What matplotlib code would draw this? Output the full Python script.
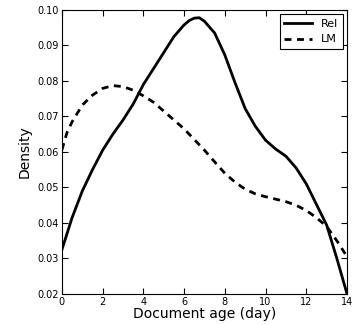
import matplotlib
matplotlib.use('Agg')
import matplotlib.pyplot as plt

age = [0, 0.25, 0.5, 1, 1.5, 2, 2.5, 3, 3.5, 4, 4.5, 5, 5.5, 6, 6.25, 6.5, 6.75, 7,
       7.5, 8, 8.5, 9, 9.5, 10, 10.5, 11, 11.5, 12, 12.5, 13, 13.5, 14]
rel = [0.0325, 0.037, 0.0415, 0.049, 0.055, 0.0605, 0.065, 0.069, 0.0735, 0.079,
       0.0835, 0.088, 0.0925, 0.0958, 0.097, 0.0977, 0.0978, 0.0968,
       0.0935, 0.0873, 0.0795, 0.0722, 0.0672, 0.0633, 0.0608, 0.0588,
       0.0555, 0.051, 0.0452, 0.0394, 0.030, 0.020]
lm = [0.0606, 0.0655, 0.0685, 0.0732, 0.0760, 0.0779, 0.0787, 0.0784, 0.0774,
      0.0758, 0.0740, 0.0715, 0.069, 0.0665, 0.065, 0.0635, 0.062, 0.0605,
      0.0572, 0.054, 0.0515, 0.0495, 0.0482, 0.0474, 0.0467, 0.046, 0.0450,
      0.0435, 0.0415, 0.039, 0.035, 0.0305]

fig = plt.figure(figsize=(3.6, 3.25), dpi=100)
ax = fig.add_axes([0.172, 0.0954, 0.792, 0.874])

ax.plot(age, rel, 'k-', lw=2, solid_joinstyle='round', label='Rel')
ax.plot(age, lm, 'k--', lw=2, dashes=(2.5, 2), label='LM')

ax.set_xlim(0, 14)
ax.set_ylim(0.02, 0.10)
ax.set_xticks(range(0, 15, 2))
ax.set_yticks([0.02, 0.03, 0.04, 0.05, 0.06, 0.07, 0.08, 0.09, 0.10])
ax.set_yticklabels(['0.02', '0.03', '0.04', '0.05', '0.06', '0.07', '0.08', '0.09', '0.10'])
ax.tick_params(direction='in', top=True, right=True, length=4, labelsize=7, pad=2)
ax.set_xlabel('Document age (day)', fontsize=10, labelpad=0)
ax.set_ylabel('Density', fontsize=10, labelpad=4)

leg = ax.legend(loc='upper right', fontsize=8, fancybox=False, edgecolor='black',
                framealpha=1, handlelength=2.5, borderaxespad=0.4)
leg.get_frame().set_linewidth(0.8)

fig.savefig('out.png', dpi=100)
